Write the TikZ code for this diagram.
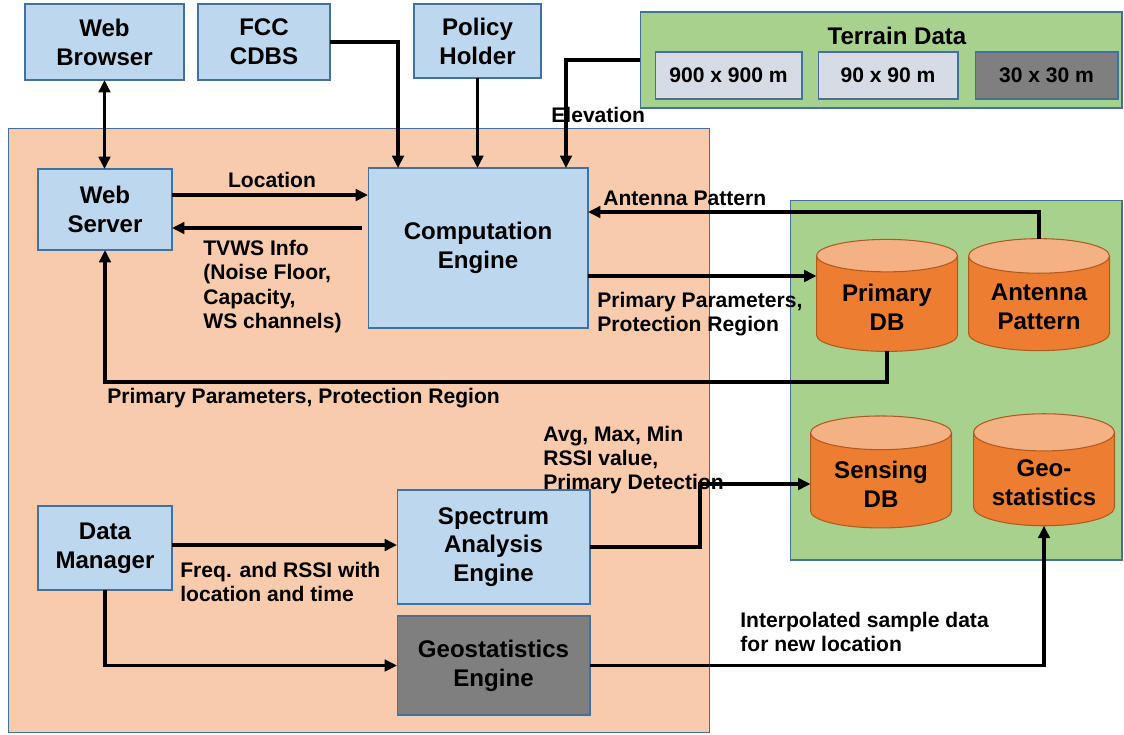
\documentclass[tikz,border=0pt]{standalone}
\usepackage{fontspec}
\setmainfont{Liberation Sans}
\usetikzlibrary{arrows.meta,positioning,shapes.geometric}

\definecolor{boxblue}{HTML}{BDD7EE}
\definecolor{edgeblue}{HTML}{41719C}
\definecolor{peach}{HTML}{F8CBAD}
\definecolor{leaf}{HTML}{A9D18E}
\definecolor{slate}{HTML}{D6DCE5}
\definecolor{midgray}{HTML}{7F7F7F}
\definecolor{dborange}{HTML}{ED7D31}
\definecolor{dbtop}{HTML}{F4B183}
\definecolor{dbedge}{HTML}{AE5A21}

\begin{document}
\begin{tikzpicture}[x=0.02cm,y=-0.02cm,
  every node/.style={font=\bfseries},
  panel/.style={draw=edgeblue,line width=0.6pt,outer sep=0pt},
  unit/.style={panel,fill=boxblue,align=center,
    font=\bfseries\fontsize{13.7pt}{16.4pt}\selectfont},
  tile/.style={panel,fill=slate,minimum height=0.94cm,
    font=\bfseries\fontsize{12pt}{14pt}\selectfont},
  dbcyl/.style={shape=cylinder,shape border rotate=90,aspect=0.32,
    draw=dbedge,line width=0.6pt,cylinder uses custom fill,
    cylinder body fill=dborange,cylinder end fill=dbtop,outer sep=0pt,
    minimum width=2.82cm,minimum height=2.24cm,align=center,
    font=\bfseries\fontsize{13.7pt}{16.4pt}\selectfont},
  lbl/.style={inner sep=0pt,anchor=west,align=left,
    font=\bfseries\fontsize{12pt}{13.9pt}\selectfont},
  link/.style={line width=1.9pt,-{Triangle[length=7pt,width=6.5pt]}}]
\useasboundingbox (0,0) rectangle (1124,734);
% Backgrounds
  \node[panel,fill=peach,minimum width=14.04cm,minimum height=12.1cm] (core) at (359,430.5) {};
  \node[panel,fill=leaf,minimum width=6.64cm,minimum height=7.2cm] (store) at (956,380) {};
  \node[panel,fill=leaf,minimum width=9.64cm,minimum height=1.92cm] (terrain) at (881,60) {};
  \node[font=\bfseries\fontsize{13.7pt}{16pt}\selectfont] (ttitle) at (897,36) {Terrain Data};
  \node[tile,minimum width=2.94cm] (t900) at (728.5,75.5) {900 x 900 m};
  \node[tile,minimum width=2.80cm] (t90) at (888,75.5) {90 x 90 m};
  \node[tile,minimum width=2.86cm,fill=midgray] (t30) at (1046.5,75.5) {30 x 30 m};
% Outside sources
  \node[unit,minimum width=3.18cm,minimum height=1.52cm] (browser) at (104.5,42) {Web\\Browser};
  \node[unit,minimum width=2.64cm,minimum height=1.52cm] (fcc) at (264,42) {FCC\\CDBS};
  \node[unit,minimum width=2.54cm,minimum height=1.48cm] (policy) at (477.5,41) {Policy\\Holder};
% Engines
  \node[unit,minimum width=2.68cm,minimum height=1.62cm] (server) at (105,209.5) {Web\\Server};
  \node[unit,minimum width=4.4cm,minimum height=3.2cm] (comp) at (478,248) {Computation\\Engine};
  \node[unit,minimum width=2.68cm,minimum height=1.68cm] (manager) at (105,548) {Data\\Manager};
  \node[unit,minimum width=3.86cm,minimum height=2.28cm] (spectrum) at (493.5,547) {Spectrum\\Analysis\\Engine};
  \node[unit,fill=midgray,minimum width=3.86cm,minimum height=1.98cm] (geoeng) at (493.5,665.5) {Geostatistics\\Engine};
% Databases
  \node[dbcyl] (primary) at (887,307) {Primary\\DB};
  \node[dbcyl] (antenna) at (1039,307) {Antenna\\Pattern};
  \node[dbcyl] (sensing) at (881,484) {Sensing\\DB};
  \node[dbcyl] (geo) at (1044,483) {Geo-\\statistics};
% Arrows
  \draw[link,{Triangle[length=7pt,width=6.5pt]}-{Triangle[length=7pt,width=6.5pt]}] (browser.south) -- (browser.south |- server.north);
  \draw[link] (fcc.east) -| ([xshift=0.6cm]comp.north west);
  \draw[link] (policy.south) -- (policy.south |- comp.north);
  \draw[link] (terrain.west) -| ([xshift=-0.44cm]comp.north east);
  \draw[link] (server.east |- 0,195) -- (comp.west |- 0,195);
  \draw[link] ([xshift=-0.12cm]comp.west |- 0,228) -- (server.east |- 0,228);
  \draw[link] (antenna.north) |- (comp.east |- 0,212);
  \draw[link] (comp.east |- 0,276) -- (primary.west |- 0,276);
  \draw[link] (primary.south) -- (primary.south |- 0,382) -| (server.south);
  \draw[link] (manager.east |- 0,545) -- (spectrum.west |- 0,545);
  \draw[link] (manager.south) |- (geoeng.west);
  \draw[link] (spectrum.east) -- ++(110,0) |- (sensing.west);
  \draw[link] (geoeng.east) -| (geo.south);
% Labels
  \node[lbl] (elev) at (551,115) {Elevation};
  \node[lbl,anchor=center] (loc) at (272,180) {Location};
  \node[lbl] (tvws) at (203,286.5) {TVWS Info\\(Noise Floor,\\Capacity,\\WS channels)};
  \node[lbl] (antlbl) at (603,198) {Antenna Pattern};
  \node[lbl] (pp1) at (597,314) {Primary Parameters,\\Protection Region};
  \node[lbl] (pp2) at (107,398) {Primary Parameters, Protection Region};
  \node[lbl] (rssi) at (543,460) {Avg, Max, Min\\RSSI value,\\Primary Detection};
  \node[lbl] (freq) at (180,582) {Freq. and RSSI with\\location and time};
  \node[lbl] (interp) at (740,632) {Interpolated sample data\\for new location};
\end{tikzpicture}
\end{document}
